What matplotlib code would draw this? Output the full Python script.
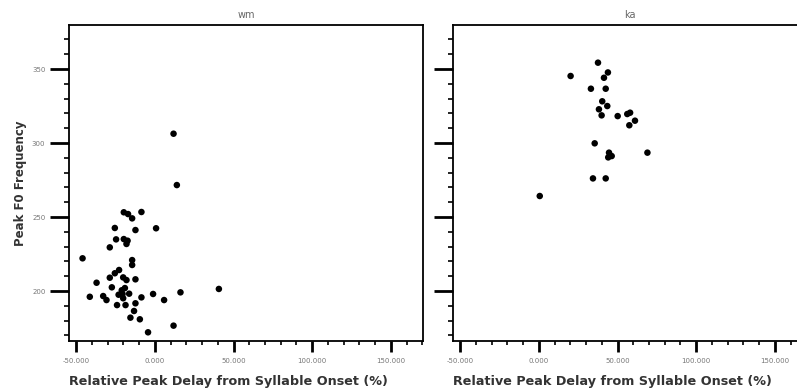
import numpy as np
import matplotlib
matplotlib.use('Agg')
import matplotlib.pyplot as plt
from matplotlib.ticker import MultipleLocator, FuncFormatter

# Peak delay (%) and peak F0 for the "wm" syllables
wm_delay = [-45.9, -19.7, -17.0, -14.4, -8.5, -25.4, -12.3, 0.8, -24.6, -19.7,
            -17.3, -18.0, -28.6, -14.4, -14.4, -22.7, -25.4, -28.6, -20.1, -18.0,
            -12.3, -37.0, -27.3, -41.3, -32.8, -30.7, -20.5, -16.3, -20.1, -8.5,
            -1.1, 5.9, 16.3, 40.7, -24.0, -18.6, -12.3, -13.2, -15.5, -9.5,
            11.9, -4.3, 11.9, 14.0, -21.0, -19.0, -23.0]
wm_f0 = [222.1, 253.2, 252.0, 249.1, 253.4, 242.6, 241.2, 242.4, 234.9, 235.1,
         234.0, 231.8, 229.5, 220.9, 217.6, 214.2, 212.0, 209.0, 209.2, 207.4,
         207.9, 205.6, 202.5, 196.1, 196.6, 193.9, 198.0, 198.2, 195.1, 195.7,
         198.0, 193.9, 199.1, 201.4, 190.5, 190.5, 191.7, 186.5, 182.0, 180.9,
         176.6, 172.1, 306.3, 271.6, 200.5, 202.0, 197.5]

# Peak delay (%) and peak F0 for the "ka" syllables
ka_delay = [37.6, 43.9, 41.4, 20.2, 33.1, 42.5, 40.3, 43.5, 38.2, 39.9,
            50.1, 56.2, 58.0, 61.1, 57.5, 35.5, 44.6, 46.3, 44.1, 69.0,
            34.4, 42.5, 0.6]
ka_f0 = [354.3, 347.7, 344.1, 345.3, 336.7, 336.7, 328.2, 325.0, 322.8, 318.7,
         318.2, 319.6, 320.5, 315.1, 312.0, 299.8, 293.5, 291.2, 290.3, 293.5,
         276.1, 276.1, 264.2]

panels = [('wm', wm_delay, wm_f0), ('ka', ka_delay, ka_f0)]
xlabel = 'Relative Peak Delay from Syllable Onset (%)'
ylabel = 'Peak F0 Frequency'

fig = plt.figure(figsize=(7.97, 3.92), dpi=100)
fig.patch.set_facecolor('white')

ax_left = fig.add_axes([0.0866, 0.130, 0.444, 0.806])
ax_right = fig.add_axes([0.5684, 0.130, 0.444, 0.806])

for ax, (name, xs, ys) in zip([ax_left, ax_right], panels):
    ax.scatter(xs, ys, s=22, color='black', edgecolors='none', zorder=3)
    ax.set_xlim(-54.5, 170.3)
    ax.set_ylim(166.2, 379.7)

    ax.xaxis.set_major_locator(MultipleLocator(50))
    ax.xaxis.set_minor_locator(MultipleLocator(10))
    ax.yaxis.set_major_locator(MultipleLocator(50))
    ax.yaxis.set_minor_locator(MultipleLocator(10))
    ax.xaxis.set_major_formatter(FuncFormatter(lambda v, p: '%.3f' % v))

    ax.tick_params(axis='x', which='major', length=8, width=2, pad=4,
                   labelsize=5, labelcolor='#777777')
    ax.tick_params(axis='x', which='minor', length=3, width=1.2)
    ax.tick_params(axis='y', which='major', length=14, width=2, pad=3,
                   labelsize=5, labelcolor='#777777')
    ax.tick_params(axis='y', which='minor', length=3.5, width=1.2)

    for sp in ax.spines.values():
        sp.set_linewidth(1.3)

    ax.set_title(name, fontsize=7, color='#666666', pad=5)
    ax.set_xlabel(xlabel, fontsize=9.2, color='#333333', fontweight='bold')
    ax.xaxis.set_label_coords(0.45, -0.108)

ax_right.tick_params(axis='y', labelleft=False)
ax_left.set_ylabel(ylabel, fontsize=8.5, color='#333333', fontweight='bold')
ax_left.yaxis.set_label_coords(-0.119, 0.5)

plt.savefig('out.png', dpi=100)
